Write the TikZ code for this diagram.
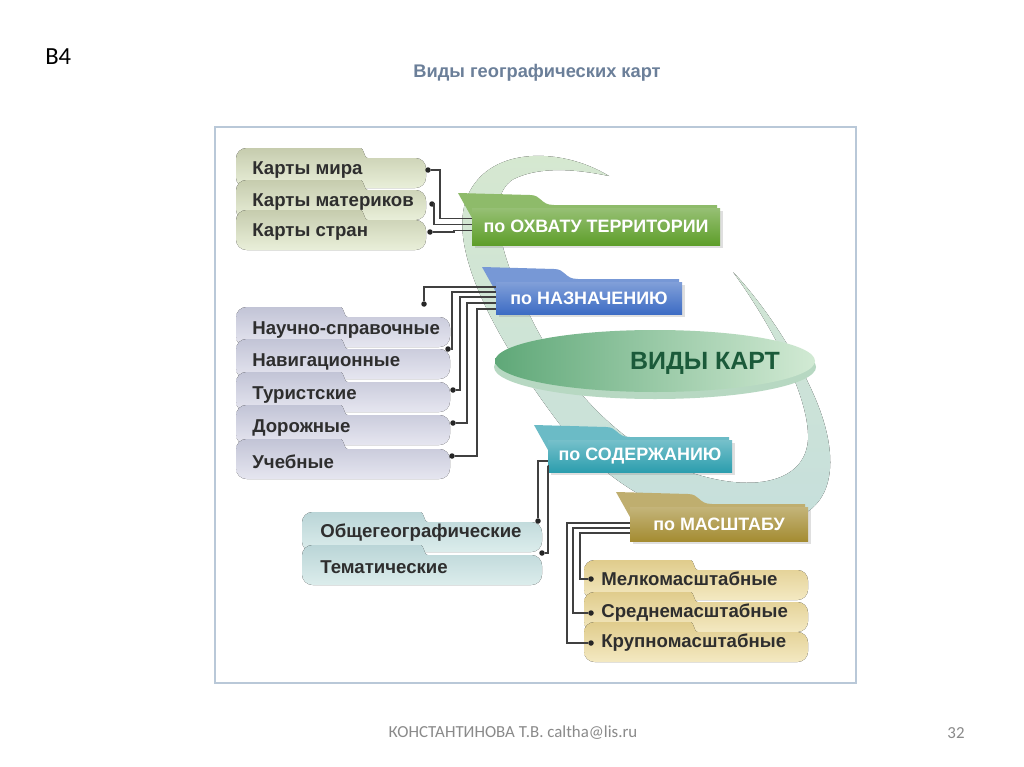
\documentclass[tikz,border=0pt]{standalone}
\usepackage{fontspec}
\setmainfont{Liberation Sans}
\newfontfamily\slidefont{Carlito}
\usetikzlibrary{calc,shadows}

\definecolor{framecol}{HTML}{B9C8D8}
\definecolor{titlecol}{HTML}{6B7F99}
\definecolor{footcol}{HTML}{8A8A8A}
\definecolor{swooshtop}{HTML}{D6E8D0}
\definecolor{swooshbot}{HTML}{C6DFDC}
\definecolor{terrgreen}{HTML}{5E9E2A}
\definecolor{naznblue}{HTML}{3D6CC4}
\definecolor{soderteal}{HTML}{2C9EAE}
\definecolor{masshgold}{HTML}{A48C32}
\definecolor{vidyleft}{HTML}{5FA878}
\definecolor{vidyright}{HTML}{D2EAD4}
\definecolor{vidytext}{HTML}{1B5A3A}
\definecolor{olivetop}{HTML}{C6CCAE}
\definecolor{olivebot}{HTML}{E9EFD9}
\definecolor{lavtop}{HTML}{C2C4D6}
\definecolor{lavbot}{HTML}{E6E6F0}
\definecolor{tealtop}{HTML}{BAD5D7}
\definecolor{tealbot}{HTML}{DCEDEC}
\definecolor{goldtop}{HTML}{E0CC8C}
\definecolor{goldbot}{HTML}{F4E9C2}

% one list tab: left x, right x, top y, step x, top colour, bottom colour
\newcommand\itemtab[6]{%
  \fill[rounded corners=6pt, top color=#5, bottom color=#6]
    (#1,#3+40) -- (#1,#3) -- (#4,#3)
    .. controls (#4+14,#3) and (#4+14,#3+10) .. (#4+28,#3+10)
    -- (#2,#3+10) -- (#2,#3+40) -- cycle;}

% a category box with its folder tab: name, x1, y1, x2, y2, colour, text
\newcommand\catbox[7]{%
  \fill[#6!70!white] (#2-14,#3-15) -- (#2+58,#3-13)
    .. controls (#2+70,#3-13) and (#2+68,#3-3) .. (#2+82,#3-3)
    -- (#4-3,#3-3) -- (#4-3,#3+4) -- (#2,#3+10) -- cycle;
  \node[catnode, top color=#6!65!white, bottom color=#6,
        minimum width={(#4-#2)*0.02cm}, minimum height={(#5-#3)*0.02cm}]
    (#1) at ({(#2+#4)/2},{(#3+#5)/2}) {#7};}

\begin{document}
\begin{tikzpicture}[x=0.02cm,y=-0.02cm]
  \tikzstyle{itemtext}=[anchor=west, inner sep=0, text=black!82, font=\bfseries\fontsize{10.6}{12}\selectfont]
  \tikzstyle{dot}=[circle, fill=black!85, inner sep=0, minimum size=0.11cm]
  \tikzstyle{link}=[draw=black!75, line width=0.6pt]
  \tikzstyle{catnode}=[inner sep=0, text=white, font=\bfseries\fontsize{10.2}{12}\selectfont,
                       drop shadow={opacity=0.25, shadow xshift=1.5pt, shadow yshift=-1.5pt}]
  \useasboundingbox[fill=white] (0,0) rectangle (1024,767);

  \node[anchor=west, inner sep=0, font=\slidefont\fontsize{14}{16}\selectfont] (slide) at (45,57) {В4};
  \node[text=titlecol, font=\bfseries\fontsize{10.4}{12}\selectfont] (title) at (537,73) {Виды географических карт};
  \node[text=footcol, font=\slidefont\fontsize{9.6}{11}\selectfont] (author) at (513,733) {КОНСТАНТИНОВА Т.В. caltha@lis.ru};
  \node[text=footcol, font=\slidefont\fontsize{9.6}{11}\selectfont] (page) at (956,733) {32};

  % frame and the swoosh behind the boxes
  \draw[framecol, line width=1.2pt] (215,127) rectangle (856,683);
  \fill[top color=swooshtop, bottom color=swooshbot]
    (609,176) .. controls (560,146) and (485,146) .. (466,200)
    .. controls (448,252) and (498,342) .. (558,422)
    .. controls (620,502) and (700,532) .. (780,522)
    .. controls (842,512) and (837,450) .. (816,400)
    .. controls (795,350) and (760,300) .. (733,272)
    .. controls (775,330) and (810,400) .. (808,440)
    .. controls (805,480) and (760,490) .. (710,478)
    .. controls (640,462) and (572,400) .. (532,320)
    .. controls (502,260) and (484,200) .. (512,180)
    .. controls (540,165) and (580,170) .. (609,176) -- cycle;

  % centre
  \fill[vidyleft!45!white] (655,367) ellipse (161 and 32);
  \shade[left color=vidyleft, right color=vidyright] (655,361) ellipse (160 and 31);
  \node[text=vidytext, font=\bfseries\fontsize{14.2}{16}\selectfont] (vidy) at (705,363) {ВИДЫ КАРТ};

  % by territory
  \itemtab{236}{426}{148}{350}{olivetop}{olivebot}
  \itemtab{236}{426}{180}{350}{olivetop}{olivebot}
  \itemtab{236}{426}{210}{350}{olivetop}{olivebot}
  \node[itemtext] (mira) at (252,170) {Карты мира};
  \node[itemtext] (mater) at (252,202) {Карты материков};
  \node[itemtext] (stran) at (252,232) {Карты стран};
  \catbox{terr}{472}{208}{720}{245}{terrgreen}{по ОХВАТУ ТЕРРИТОРИИ}
  \node[dot] (dmira) at (428,170) {};
  \node[dot] (dmater) at (432,204) {};
  \node[dot] (dstran) at (430,232) {};
  \draw[link] (dmira) -- ++(12,0) |- ($(terr.west)+(0,-8)$);
  \draw[link] (dmater) -- ++(2,0) |- ($(terr.west)+(0,-2)$);
  \draw[link] (dstran) -- ++(24,0) |- ($(terr.west)+(0,4)$);

  % by purpose
  \itemtab{236}{450}{307}{330}{lavtop}{lavbot}
  \itemtab{236}{450}{339}{330}{lavtop}{lavbot}
  \itemtab{236}{450}{372}{330}{lavtop}{lavbot}
  \itemtab{236}{450}{405}{330}{lavtop}{lavbot}
  \itemtab{236}{450}{439}{330}{lavtop}{lavbot}
  \node[itemtext] (nauch) at (252,330) {Научно-справочные};
  \node[itemtext] (navig) at (252,362) {Навигационные};
  \node[itemtext] (turist) at (252,395) {Туристские};
  \node[itemtext] (dorozh) at (252,428) {Дорожные};
  \node[itemtext] (ucheb) at (252,462) {Учебные};
  \catbox{nazn}{496}{282}{682}{314}{naznblue}{по НАЗНАЧЕНИЮ}
  \node[dot] (dnauch) at (424,304) {};
  \node[dot] (dnavig) at (448,349) {};
  \node[dot] (dturist) at (453,390) {};
  \node[dot] (ddorozh) at (453,423) {};
  \node[dot] (ducheb) at (452,456) {};
  \draw[link] (dnauch) |- ($(nazn.west)+(0,-11)$);
  \draw[link] (dnavig) -- ++(4,0) |- ($(nazn.west)+(0,-6)$);
  \draw[link] (dturist) -- ++(7,0) |- ($(nazn.west)+(0,-1)$);
  \draw[link] (ddorozh) -- ++(14,0) |- ($(nazn.west)+(0,5)$);
  \draw[link] (ducheb) -- ++(25,0) |- ($(nazn.west)+(0,11)$);

  % by content
  \itemtab{302}{542}{512}{410}{tealtop}{tealbot}
  \itemtab{302}{542}{545}{410}{tealtop}{tealbot}
  \node[itemtext] (obsh) at (320,533) {Общегеографические};
  \node[itemtext] (temat) at (320,567) {Тематические};
  \catbox{soder}{548}{440}{732}{472}{soderteal}{по СОДЕРЖАНИЮ}
  \node[dot] (dobsh) at (538,521) {};
  \node[dot] (dtemat) at (542,553) {};
  \draw[link] (dobsh) |- ($(soder.west)+(0,5)$);
  \draw[link] (dtemat) -- ++(6,0) |- ($(soder.west)+(0,10)$);

  % by scale
  \itemtab{584}{808}{560}{680}{goldtop}{goldbot}
  \itemtab{584}{808}{592}{680}{goldtop}{goldbot}
  \itemtab{584}{808}{622}{680}{goldtop}{goldbot}
  \node[itemtext] (melk) at (601,579) {Мелкомасштабные};
  \node[itemtext] (sred) at (601,613) {Среднемасштабные};
  \node[itemtext] (krup) at (601,643) {Крупномасштабные};
  \catbox{massh}{630}{507}{808}{541}{masshgold}{по МАСШТАБУ}
  \node[dot] (dmelk) at (591,579) {};
  \node[dot] (dsred) at (591,613) {};
  \node[dot] (dkrup) at (591,643) {};
  \draw[link] (dmelk) -- ++(-11,0) |- ($(massh.west)+(0,9)$);
  \draw[link] (dsred) -- ++(-18,0) |- ($(massh.west)+(0,4)$);
  \draw[link] (dkrup) -- ++(-24,0) |- ($(massh.west)+(0,-1)$);
\end{tikzpicture}
\end{document}
